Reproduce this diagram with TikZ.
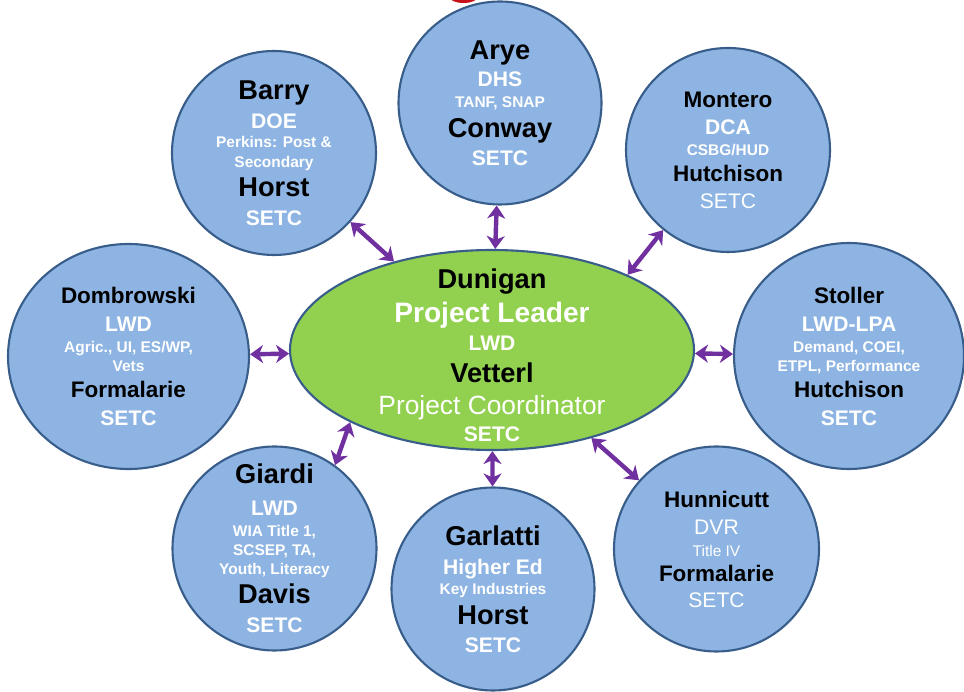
\documentclass[tikz,border=0pt]{standalone}
\usepackage{fontspec}
\setmainfont{Liberation Sans}
\usetikzlibrary{shapes.geometric}
\usetikzlibrary{arrows.meta}

\definecolor{hubblue}{RGB}{141,180,226}
\definecolor{rimblue}{RGB}{56,93,138}
\definecolor{leadgreen}{RGB}{146,208,80}
\definecolor{linkpurple}{RGB}{112,48,160}
\definecolor{titlered}{RGB}{200,16,24}

\newcommand{\bigname}{\color{black}\bfseries\fontsize{15.5}{0}\selectfont}
\newcommand{\smallname}{\color{black}\bfseries\fontsize{12.8}{0}\selectfont}
\newcommand{\agency}{\bfseries\fontsize{12}{0}\selectfont}
\newcommand{\program}{\bfseries\fontsize{8.8}{0}\selectfont}
\newcommand{\role}{\bfseries\fontsize{16}{0}\selectfont}
\newcommand{\tightlines}{\fontsize{12}{0}\selectfont\lineskiplimit=-50pt\relax}

\begin{document}
\begin{tikzpicture}[
    hub/.style={circle, draw=rimblue, line width=1.2pt, fill=hubblue, text=white, align=center,
        inner sep=0pt, minimum size=4.08cm, font=\tightlines},
    wide/.style={hub, ellipse},
    lead/.style={ellipse, draw=rimblue, line width=1.2pt, fill=leadgreen, inner sep=0pt,
        minimum width=8.08cm, minimum height=4.0cm},
    leadtext/.style={text=white, align=center, inner sep=0pt, font=\tightlines},
    link/.style={{Stealth[length=2.6mm,width=3.6mm,inset=0.8mm]}-{Stealth[length=2.6mm,width=3.6mm,inset=0.8mm]},
        draw=linkpurple, line width=2.5pt}
]
        \useasboundingbox (0,0) rectangle (19.28,-13.84);

        % Cut-off title at the top edge
        \fill[titlered] (9.27,0.06) ellipse [x radius=0.28cm, y radius=0.12cm];

        % Central ellipse with the project leads
        \node[lead] (lead) at (9.84,-7.00) {};
        \node[leadtext] (leadtext) at (9.84,-7.10) {{\bigname Dunigan}\\[19.3pt]{\role Project Leader}\\[15.9pt]{\agency LWD}\\[18.2pt]{\bigname Vetterl}\\[18.2pt]{\fontsize{15}{0}\selectfont Project Coordinator}\\[15.4pt]{\agency SETC}};

        % Partner circles, clockwise from top left
        \node[hub] (barry) at (5.48,-3.06) {{\bigname Barry}\\[16.5pt]{\agency DOE}\\[10.8pt]{\program Perkins: Post \&}\\[11.4pt]{\program Secondary}\\[16.5pt]{\bigname Horst}\\[16.5pt]{\agency SETC}};
        \node[hub, minimum size=4.06cm] (arye) at (10.00,-2.06) {{\bigname Arye}\\[15.4pt]{\agency DHS}\\[12pt]{\program TANF, SNAP}\\[17pt]{\bigname Conway}\\[16pt]{\agency SETC}};
        \node[hub] (montero) at (14.56,-3.00) {{\smallname Montero}\\[15.4pt]{\agency DCA}\\[12pt]{\program CSBG/HUD}\\[14.8pt]{\smallname Hutchison}\\[15.4pt]{\agency\mdseries SETC}};
        \node[wide, minimum width=4.60cm, minimum height=4.52cm] (stoller) at (16.98,-7.12) {{\smallname Stoller}\\[15.9pt]{\agency LWD-LPA}\\[12pt]{\program Demand, COEI,}\\[10.8pt]{\program ETPL, Performance}\\[14.8pt]{\smallname Hutchison}\\[15.9pt]{\agency SETC}};
        \node[hub, minimum size=4.10cm] (hunnicutt) at (14.33,-10.98) {{\smallname Hunnicutt}\\[15.9pt]{\agency\mdseries DVR}\\[12pt]{\program\mdseries Title IV}\\[14.2pt]{\smallname Formalarie}\\[14.8pt]{\agency\mdseries SETC}};
        \node[hub, minimum size=4.06cm] (garlatti) at (9.86,-11.78) {{\bigname Garlatti}\\[16.5pt]{\agency Higher Ed}\\[11.4pt]{\program Key Industries}\\[17pt]{\bigname Horst}\\[16pt]{\agency SETC}};
        \node[hub] (giardi) at (5.49,-10.97) {{\bigname Giardi}\\[18.2pt]{\agency LWD}\\[12pt]{\program WIA Title 1,}\\[10.8pt]{\program SCSEP, TA,}\\[10.8pt]{\program Youth, Literacy}\\[16.5pt]{\bigname Davis}\\[16.5pt]{\agency SETC}};
        \node[wide, minimum width=4.82cm, minimum height=4.50cm] (dombrowski) at (2.57,-7.13) {{\smallname Dombrowski}\\[15.9pt]{\agency LWD}\\[12pt]{\program Agric., UI, ES/WP,}\\[10.8pt]{\program Vets}\\[14.8pt]{\smallname Formalarie}\\[15.9pt]{\agency SETC}};

        % Two-way links to the centre
        \draw[link] (barry) -- (lead);
        \draw[link] (arye) -- (lead);
        \draw[link] (montero.231) -- (lead.29); % steeper than centre line
        \draw[link] (stoller) -- (lead);
        \draw[link] (hunnicutt) -- (lead);
        \draw[link] (garlatti) -- (lead);
        \draw[link] (giardi.54) -- (lead.207); % steeper than centre line
        \draw[link] (dombrowski) -- (lead);
\end{tikzpicture}
\end{document}
